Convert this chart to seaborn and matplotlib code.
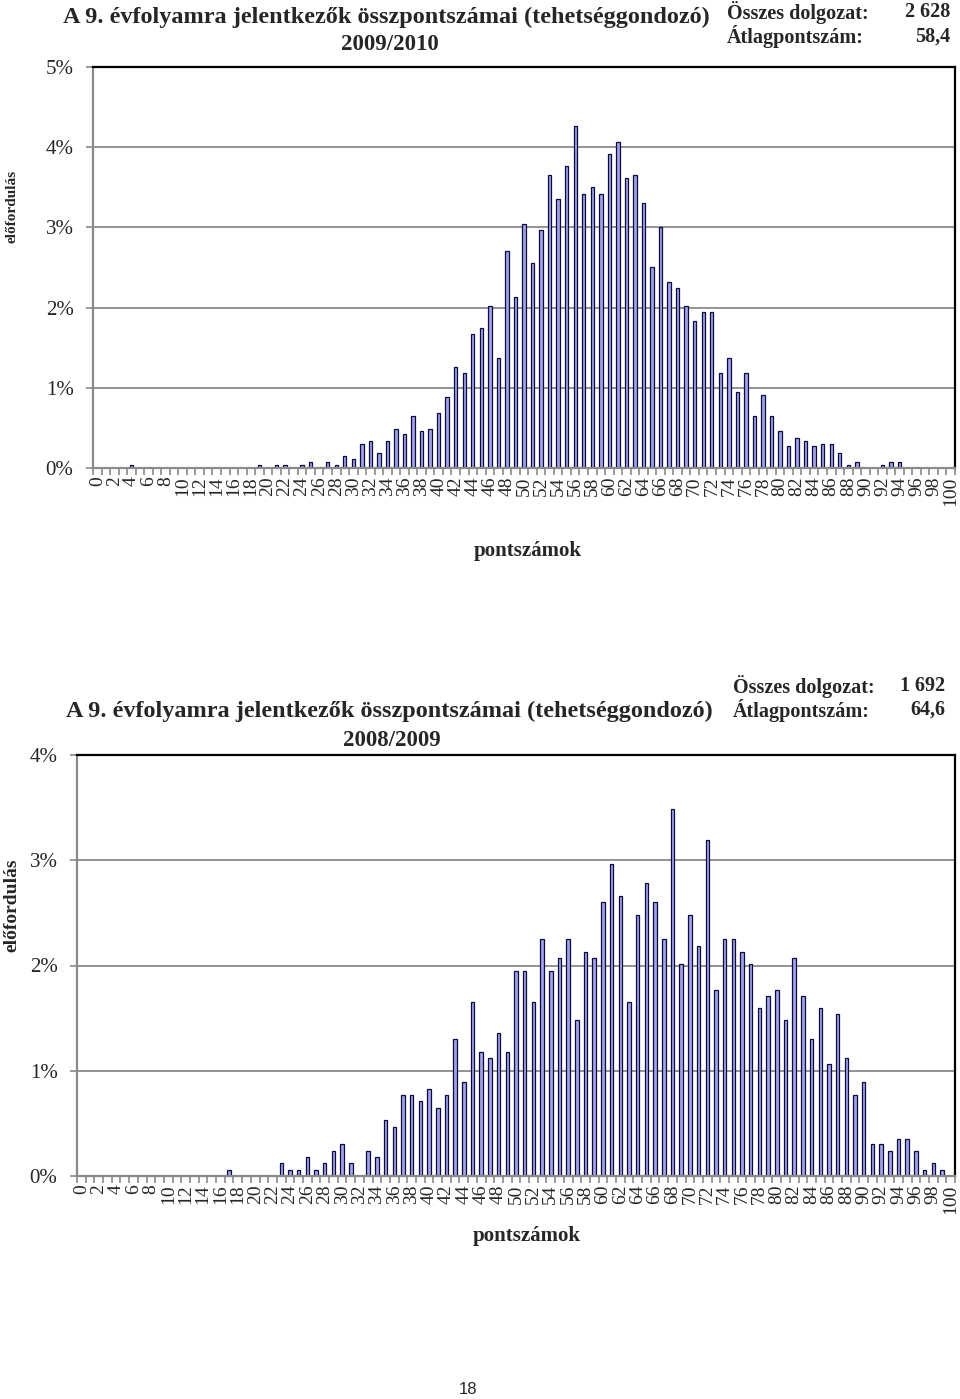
import numpy as np
import pandas as pd
import matplotlib
matplotlib.use("Agg")
import matplotlib.pyplot as plt
import seaborn as sns
from matplotlib.ticker import FuncFormatter

# Score categories 0..100
scores = list(range(101))

# 2009/2010 distribution (% of papers per score)
pct_2009_2010 = [
    0, 0, 0, 0, 0.04, 0, 0, 0, 0, 0,                          # 0-9
    0, 0, 0, 0, 0, 0, 0, 0, 0, 0.04,                          # 10-19
    0, 0.04, 0.04, 0, 0.04, 0.08, 0, 0.08, 0.04, 0.15,        # 20-29
    0.11, 0.30, 0.34, 0.19, 0.34, 0.49, 0.42, 0.65, 0.46, 0.49,  # 30-39
    0.68, 0.88, 1.26, 1.18, 1.67, 1.75, 2.02, 1.37, 2.70, 2.13,  # 40-49
    3.04, 2.55, 2.97, 3.65, 3.35, 3.77, 4.26, 3.42, 3.50, 3.42,  # 50-59
    3.92, 4.07, 3.61, 3.65, 3.31, 2.51, 3.01, 2.32, 2.25, 2.02,  # 60-69
    1.83, 1.94, 1.94, 1.18, 1.37, 0.95, 1.18, 0.65, 0.91, 0.65,  # 70-79
    0.46, 0.27, 0.38, 0.34, 0.27, 0.30, 0.30, 0.19, 0.04, 0.08,  # 80-89
    0, 0, 0.04, 0.08, 0.08, 0, 0, 0, 0, 0,                    # 90-99
    0,                                                        # 100
]

# 2008/2009 distribution (% of papers per score)
pct_2008_2009 = [
    0, 0, 0, 0, 0, 0, 0, 0, 0, 0,                             # 0-9
    0, 0, 0, 0, 0, 0, 0, 0.06, 0, 0,                          # 10-19
    0, 0, 0, 0.12, 0.06, 0.06, 0.18, 0.06, 0.12, 0.24,        # 20-29
    0.30, 0.12, 0, 0.24, 0.18, 0.53, 0.47, 0.77, 0.77, 0.71,  # 30-39
    0.83, 0.65, 0.77, 1.30, 0.89, 1.65, 1.18, 1.12, 1.36, 1.18,  # 40-49
    1.95, 1.95, 1.65, 2.25, 1.95, 2.07, 2.25, 1.48, 2.13, 2.07,  # 50-59
    2.60, 2.96, 2.66, 1.65, 2.48, 2.78, 2.60, 2.25, 3.49, 2.01,  # 60-69
    2.48, 2.19, 3.19, 1.77, 2.25, 2.25, 2.13, 2.01, 1.60, 1.71,  # 70-79
    1.77, 1.48, 2.07, 1.71, 1.30, 1.60, 1.06, 1.54, 1.12, 0.77,  # 80-89
    0.89, 0.30, 0.30, 0.24, 0.35, 0.35, 0.24, 0.06, 0.12, 0.06,  # 90-99
    0,                                                        # 100
]

title_text = "A 9. évfolyamra jelentkezők összpontszámai (tehetséggondozó)"
years = ["2009/2010", "2008/2009"]
totals = ["2 628", "1 692"]
averages = ["58,4", "64,6"]

sns.set_theme(style="white")
plt.rcParams['font.family'] = ['Liberation Serif', 'DejaVu Serif']

W, H = 960, 1399
BAR_FILL = "#a2a2e8"
BAR_EDGE = "#0b0b40"
GRAY = "#8a8a8a"


def rect(left, top, right, bottom):
    # pixel box -> figure fraction
    return [left / W, 1 - bottom / H, (right - left) / W, (bottom - top) / H]


def ftext(fig, x, y, s, **kw):
    fig.text(x / W, 1 - y / H, s, **kw)


def draw_panel(fig, box, values, ymax):
    ax = fig.add_axes(box)
    df = pd.DataFrame({"score": scores, "pct": values})
    sns.barplot(data=df, x="score", y="pct", order=scores, width=0.4,
                color=BAR_FILL, saturation=1, edgecolor=BAR_EDGE,
                linewidth=0.9, ax=ax)
    ax.set_xlim(-0.5, 100.5)
    ax.set_ylim(0, ymax)
    ax.set_xlabel("")
    ax.set_ylabel("")

    ax.set_xticks(range(0, 101, 2))
    ax.set_xticklabels([str(s) for s in range(0, 101, 2)], rotation=90,
                       fontsize=14)
    ax.set_xticks(np.arange(-0.5, 101, 1), minor=True)
    ax.tick_params(axis="x", which="major", length=0, pad=6)
    ax.tick_params(axis="x", which="minor", length=5, width=1.2,
                   color=GRAY, direction="out", bottom=True)

    ax.set_yticks(range(0, ymax + 1))
    ax.yaxis.set_major_formatter(FuncFormatter(lambda v, p: f"{int(v)}%"))
    ax.tick_params(axis="y", length=5, width=1.2, color=GRAY,
                   direction="out", left=True, labelsize=15, pad=9)

    ax.yaxis.grid(True, color=GRAY, linewidth=1.3)
    ax.set_axisbelow(True)
    for side in ["left", "bottom"]:
        ax.spines[side].set_color(GRAY)
        ax.spines[side].set_linewidth(1.6)
    for side in ["top", "right"]:
        ax.spines[side].set_color("black")
        ax.spines[side].set_linewidth(1.6)
    return ax


fig = plt.figure(figsize=(W / 100, H / 100), dpi=100)

# top panel: 2009/2010
draw_panel(fig, rect(93, 67, 955, 468), pct_2009_2010, 5)
ftext(fig, 386, 17, title_text, ha="center", va="center", fontsize=17.5,
      fontweight="bold")
ftext(fig, 390, 45, years[0], ha="center", va="center", fontsize=16.5,
      fontweight="bold")
ftext(fig, 727, 12, "Összes dolgozat:", ha="left", va="center", fontsize=14.5,
      fontweight="bold")
ftext(fig, 950, 12, totals[0], ha="right", va="center", fontsize=14.5,
      fontweight="bold")
ftext(fig, 727, 37, "Átlagpontszám:", ha="left", va="center", fontsize=14.5,
      fontweight="bold")
ftext(fig, 950, 37, averages[0], ha="right", va="center", fontsize=14.5,
      fontweight="bold")
ftext(fig, 12, 206, "előfordulás", ha="center", va="center", rotation=90,
      fontsize=11, fontweight="bold")
ftext(fig, 528, 551, "pontszámok", ha="center", va="center", fontsize=15,
      fontweight="bold")

# bottom panel: 2008/2009
draw_panel(fig, rect(77, 755, 955, 1176), pct_2008_2009, 4)
ftext(fig, 389, 711, title_text, ha="center", va="center", fontsize=17.5,
      fontweight="bold")
ftext(fig, 392, 740, years[1], ha="center", va="center", fontsize=16.5,
      fontweight="bold")
ftext(fig, 733, 686, "Összes dolgozat:", ha="left", va="center", fontsize=14.5,
      fontweight="bold")
ftext(fig, 945, 686, totals[1], ha="right", va="center", fontsize=14.5,
      fontweight="bold")
ftext(fig, 733, 710, "Átlagpontszám:", ha="left", va="center", fontsize=14.5,
      fontweight="bold")
ftext(fig, 945, 710, averages[1], ha="right", va="center", fontsize=14.5,
      fontweight="bold")
ftext(fig, 12, 905, "előfordulás", ha="center", va="center", rotation=90,
      fontsize=14, fontweight="bold")
ftext(fig, 527, 1236, "pontszámok", ha="center", va="center", fontsize=15,
      fontweight="bold")

# page number
ftext(fig, 468, 1390, "18", ha="center", va="center", fontsize=12,
      family=["Liberation Sans", "DejaVu Sans"])

fig.savefig("out.png", dpi=100, facecolor="white")
